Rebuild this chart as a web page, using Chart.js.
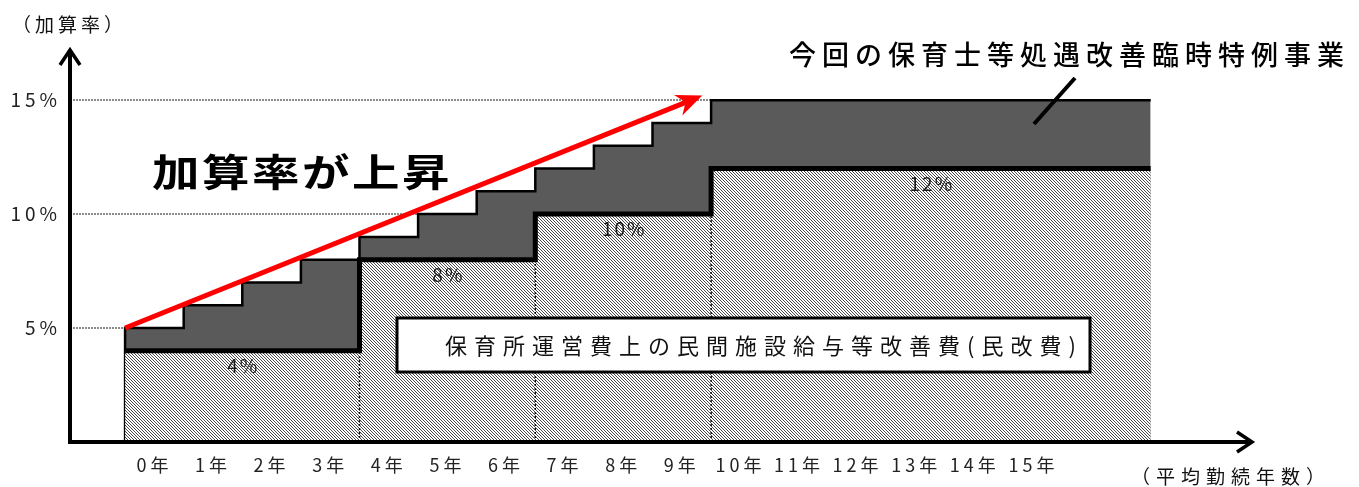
<!DOCTYPE html>
<html lang="ja">
<head>
<meta charset="utf-8">
<title>加算率</title>
<script src="https://cdn.jsdelivr.net/npm/chart.js@4/dist/chart.umd.min.js"></script>
<style>
body{margin:0;background:#fff;}
canvas{display:block;}
</style>
</head>
<body>
<canvas id="chart" width="1359" height="487"></canvas>
<script>

// data
const years = ["0年","1年","2年","3年","4年","5年","6年","7年","8年","9年","10年","11年","12年","13年","14年","15年"];
const baseRate = [4,4,4,4,8,8,8,10,10,10,12,12,12,12,12,12];      // 民改費
const totalRate = [5,6,7,8,9,10,11,12,13,14,15,15,15,15,15,15];   // 民改費 + 特例事業
const yTicks = [5,10,15];
const rangeEnd = 17.5;            // bars run on past 15年
const arrowFrom = [0,5];
const arrowTo = [9.85,15.2];

const FONT = '"Noto Sans CJK JP", "Noto Sans", sans-serif';


function hatch(){

const c=document.createElement("canvas");
c.width=3; c.height=3;
const g=c.getContext("2d");
g.fillStyle="#ffffff";
g.fillRect(0,0,3,3);
g.fillStyle="#4a4a4a";
for(let i=0;i<3;i++) g.fillRect(i,i,1,1);
return g.createPattern(c,"repeat");

}


const basePts = baseRate.map((v,i)=>({x:i,y:v}));
basePts.push({x:rangeEnd,y:baseRate[baseRate.length-1]});

const totalPts = [{x:0,y:0}].concat(totalRate.map((v,i)=>({x:i,y:v})));
totalPts.push({x:rangeEnd,y:totalRate[totalRate.length-1]});


function text(ctx,str,x,y,font,spacing,align,stretch){

ctx.save();
ctx.font=font;
ctx.letterSpacing=spacing+"px";
ctx.textAlign=align||"left";
ctx.textBaseline="middle";
ctx.translate(x,y);
ctx.scale(stretch||1,1);
ctx.fillText(str,0,0);
ctx.restore();

}


function chevron(ctx,tx,ty,dx,dy){

// open arrow head pointing along (dx,dy)
const len=15, w=10;
const px=-dy, py=dx;
ctx.beginPath();
ctx.moveTo(tx-dx*len+px*w, ty-dy*len+py*w);
ctx.lineTo(tx,ty);
ctx.lineTo(tx-dx*len-px*w, ty-dy*len-py*w);
ctx.stroke();

}


const decor = {

id:"decor",

beforeDraw(chart){
chart.ctx.letterSpacing="4px";
},

beforeDatasetsDraw(chart){

const {ctx,scales:{x,y}} = chart;
ctx.save();
ctx.strokeStyle="#8c8c8c";
ctx.lineWidth=2;
ctx.setLineDash([2,1]);
yTicks.forEach(v=>{
const py=Math.round(y.getPixelForValue(v));
ctx.beginPath();
ctx.moveTo(x.left,py);
ctx.lineTo(x.getPixelForValue(rangeEnd),py);
ctx.stroke();
});
ctx.restore();

},

afterDatasetsDraw(chart){

const {ctx,scales:{x,y}} = chart;
const y0=y.getPixelForValue(0);
ctx.save();

// dividers inside the hatched part
ctx.strokeStyle="#111";
ctx.lineWidth=1.5;
ctx.setLineDash([2,2]);
for(let i=1;i<baseRate.length;i++){
if(baseRate[i]!==baseRate[i-1]){
const px=x.getPixelForValue(i);
ctx.beginPath();
ctx.moveTo(px,y0);
ctx.lineTo(px,y.getPixelForValue(baseRate[i-1]));
ctx.stroke();
}
}
ctx.setLineDash([]);

// base rate labels
ctx.fillStyle="#1a1a1a";
let start=0;
for(let i=1;i<=baseRate.length;i++){
if(i===baseRate.length || baseRate[i]!==baseRate[start]){
const end = i===baseRate.length ? rangeEnd : i;
const cx=x.getPixelForValue((start+end)/2);
const cy=y.getPixelForValue(baseRate[start])+15;
text(ctx,baseRate[start]+"%",cx+1,cy,"19px "+FONT,2,"center");
start=i;
}
}

// axes with arrows
ctx.strokeStyle="#000";
ctx.lineWidth=4;
ctx.lineCap="butt";
ctx.beginPath();
ctx.moveTo(x.left-2,y0);
ctx.lineTo(x.right,y0);
ctx.moveTo(x.left,y0+2);
ctx.lineTo(x.left,y.top);
ctx.stroke();
ctx.lineWidth=3.5;
chevron(ctx,x.right,y0,1,0);
chevron(ctx,x.left,y.top,0,-1);

// red arrow
const ax=x.getPixelForValue(arrowFrom[0]), ay=y.getPixelForValue(arrowFrom[1]);
const bx=x.getPixelForValue(arrowTo[0]), by=y.getPixelForValue(arrowTo[1]);
const L=Math.hypot(bx-ax,by-ay), ux=(bx-ax)/L, uy=(by-ay)/L;
ctx.strokeStyle="#ff0000";
ctx.fillStyle="#ff0000";
ctx.lineWidth=5;
ctx.beginPath();
ctx.moveTo(ax,ay);
ctx.lineTo(bx-ux*16,by-uy*16);
ctx.stroke();
ctx.beginPath();
ctx.moveTo(bx,by);
ctx.lineTo(bx-ux*26+uy*11,by-uy*26-ux*11);
ctx.lineTo(bx-ux*18,by-uy*18);
ctx.lineTo(bx-ux*26-uy*11,by-uy*26+ux*11);
ctx.closePath();
ctx.fill();

// pointer to the top band
ctx.strokeStyle="#000";
ctx.lineWidth=4;
ctx.beginPath();
ctx.moveTo(1034,124);
ctx.lineTo(1075,78);
ctx.stroke();

// white label box
ctx.fillStyle="#fff";
ctx.fillRect(397,318,693,54);
ctx.lineWidth=3;
ctx.strokeRect(397,318,693,54);
ctx.fillStyle="#111";
text(ctx,"保育所運営費上の民間施設給与等改善費(民改費)",764,346,"22px "+FONT,7,"center");

// titles and notes
ctx.fillStyle="#000";
text(ctx,"今回の保育士等処遇改善臨時特例事業",789,55,"500 27px "+FONT,6,"left");
text(ctx,"加算率が上昇",152,172,"bold 38px "+FONT,2,"left",1.25);
ctx.fillStyle="#111";
text(ctx,"（加算率）",12,25,"19px "+FONT,4,"left");
text(ctx,"（平均勤続年数）",1131,477,"19px "+FONT,6,"left");

ctx.restore();
ctx.letterSpacing="0px";

}

};


new Chart(document.getElementById("chart"),{

type:"line",

data:{
datasets:[
{
label:"民改費",
data:basePts,
stepped:true,
borderColor:"#000",
borderWidth:5,
backgroundColor:hatch(),
fill:"origin",
pointRadius:0
},
{
label:"特例事業",
data:totalPts,
stepped:true,
borderColor:"#000",
borderWidth:2.5,
backgroundColor:"#5a5a5a",
fill:"origin",
pointRadius:0
}
]
},

options:{
responsive:false,
animation:false,
layout:{padding:{top:50,right:107,left:0,bottom:0}},
plugins:{
legend:{display:false},
tooltip:{enabled:false}
},
scales:{
x:{
type:"linear",
min:-0.94,
max:19.23,
grid:{display:false},
border:{display:false},
afterBuildTicks:s=>{ s.ticks=years.map((_,i)=>({value:i+0.5})); },
afterFit:s=>{ s.height=45; },
ticks:{
autoSkip:false,
maxRotation:0,
padding:4,
color:"#222",
font:{family:FONT,size:18},
callback:(v,i)=>years[i]
}
},
y:{
min:0,
max:17.2,
grid:{display:false},
border:{display:false},
afterBuildTicks:s=>{ s.ticks=yTicks.map(v=>({value:v})); },
afterFit:s=>{ s.width=70; },
ticks:{
padding:1,
color:"#222",
font:{family:FONT,size:19},
callback:v=>v+"%"
}
}
}
},

plugins:[decor]

});

</script>
</body>
</html>
